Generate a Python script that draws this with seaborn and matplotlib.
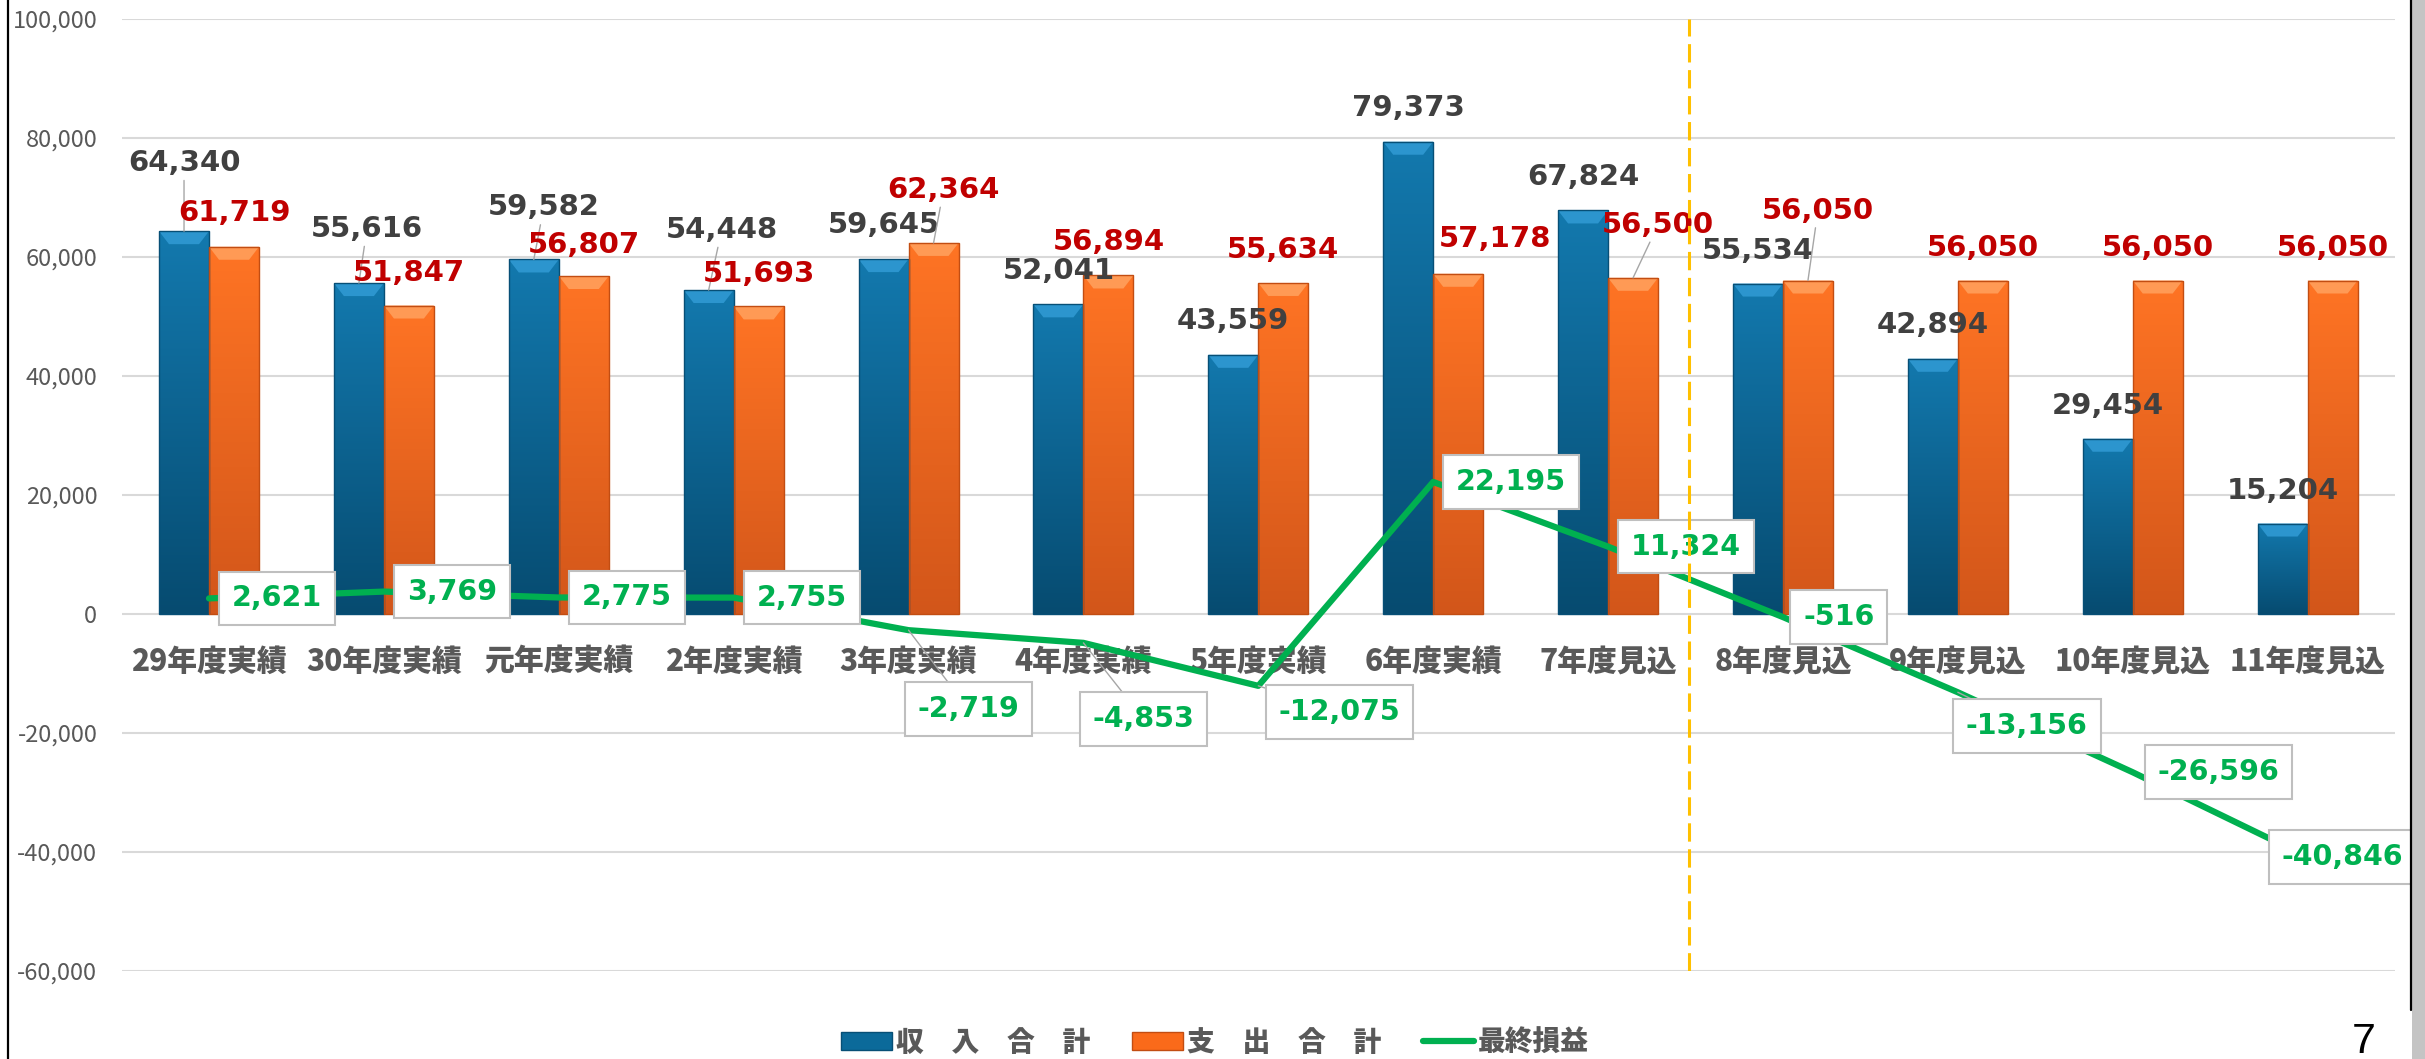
import numpy as np
import pandas as pd
import matplotlib
matplotlib.use("Agg")
import matplotlib.pyplot as plt
import seaborn as sns
from matplotlib.patches import Patch, Rectangle, Polygon
from matplotlib.lines import Line2D
from matplotlib.colors import LinearSegmentedColormap
from matplotlib.ticker import FuncFormatter, FixedLocator

# ---------------- data ----------------
categories = ['29年度実績', '30年度実績', '元年度実績', '2年度実績', '3年度実績', '4年度実績',
              '5年度実績', '6年度実績', '7年度見込', '8年度見込', '9年度見込', '10年度見込', '11年度見込']
income = [64340, 55616, 59582, 54448, 59645, 52041, 43559, 79373, 67824, 55534, 42894, 29454, 15204]
expense = [61719, 51847, 56807, 51693, 62364, 56894, 55634, 57178, 56500, 56050, 56050, 56050, 56050]
profit = [2621, 3769, 2775, 2755, -2719, -4853, -12075, 22195, 11324, -516, -13156, -26596, -40846]
series_names = ['収\u3000入\u3000合\u3000計', '支\u3000出\u3000合\u3000計', '最終損益']
y_ticks = [-60000, -40000, -20000, 0, 20000, 40000, 60000, 80000, 100000]
divider_pos = 8.46   # between 7年度見込 and 8年度見込
page_number = '7'

# label offsets in pixels (dx, dy up)
inc_off = [(0, 68), (8, 54), (10, 52), (13, 60), (0, 34), (0, 33), (0, 34), (0, 34), (0, 33), (0, 33), (0, 34), (0, 33), (0, 33)]
exp_off = [(0, 34), (0, 33), (0, 31), (0, 32), (10, 53), (0, 33), (0, 33), (37, 35), (25, 53), (10, 70), (0, 33), (0, 33), (0, 33)]
prof_off = [(68, 0), (68, 0), (68, 0), (68, 0), (60, -79), (60, -76), (81, -26), (78, 0), (78, 0), (56, 0), (69, -34), (86, 0), (35, 0)]

# ---------------- style ----------------
sns.set_style('white')
plt.rcParams['font.family'] = ['Noto Sans CJK JP', 'DejaVu Sans']

BLUE, BLUE_TOP, BLUE_BOT, BLUE_BEVEL, BLUE_EDGE = '#0B6A9A', '#1379AE', '#064B70', '#2C95CE', '#074F76'
ORANGE, ORANGE_TOP, ORANGE_BOT, ORANGE_BEVEL, ORANGE_EDGE = '#FA6A1A', '#FF7424', '#D2561A', '#FF9A55', '#C24D12'
GREEN = '#00B050'
PX = 0.72  # px -> pt at 100 dpi

n = len(categories)
df = pd.DataFrame({
    'idx': list(range(n)) * 2,
    'series': [series_names[0]] * n + [series_names[1]] * n,
    'value': income + expense,
})

fig = plt.figure(figsize=(24.25, 10.59), dpi=100)
ax = fig.add_axes([0.05014, 0.0831, 0.9375, 0.89896])

sns.barplot(data=df, x='idx', y='value', hue='series', hue_order=series_names[:2],
            palette=[BLUE, ORANGE], width=0.572, saturation=1, legend=False, ax=ax)

# gradient + bevel for each bar
bh = 13 * 160000 / 952
inset = 10 * 13 / (2395 - 121.6)
styles = [(BLUE_TOP, BLUE_BOT, BLUE_BEVEL, BLUE_EDGE), (ORANGE_TOP, ORANGE_BOT, ORANGE_BEVEL, ORANGE_EDGE)]
grad = np.linspace(0, 1, 256).reshape(-1, 1)
for cont, (ctop, cbot, cbev, cedge) in zip(ax.containers, styles):
    cmap = LinearSegmentedColormap.from_list('g', [cbot, ctop])
    for rect in cont:
        x0, y0, w, h = rect.get_x(), rect.get_y(), rect.get_width(), rect.get_height()
        im = ax.imshow(grad, extent=[x0, x0 + w, y0, y0 + h], origin='lower', aspect='auto',
                       cmap=cmap, zorder=1.1, interpolation='bilinear')
        im.set_clip_path(rect)
        top = y0 + h
        ax.add_patch(Polygon([(x0, top), (x0 + w, top), (x0 + w - inset, top - bh), (x0 + inset, top - bh)],
                             closed=True, facecolor=cbev, edgecolor='none', zorder=1.2))
        rect.set_facecolor('none')
        rect.set_edgecolor(cedge)
        rect.set_linewidth(1.0)
        rect.set_zorder(1.3)

# profit line
sns.lineplot(x=np.arange(n), y=profit, color=GREEN, linewidth=4.5, ax=ax, zorder=5, sort=False)

# divider
ax.axvline(divider_pos, color='#FFC000', lw=2.2, ls=(0, (6, 2.5)), zorder=8)

# axes cosmetics
ax.set_xlim(-0.5, n - 0.5)
ax.set_ylim(-60000, 100000)
ax.yaxis.set_major_locator(FixedLocator(y_ticks))
ax.yaxis.set_major_formatter(FuncFormatter(lambda v, p: f'{int(v):,}'))
ax.yaxis.grid(True, color='#D9D9D9', lw=1.5)
ax.xaxis.grid(False)
ax.set_axisbelow(True)
for s in ax.spines.values():
    s.set_visible(False)
ax.tick_params(axis='y', length=0, pad=17.5, labelsize=17, labelcolor='#595959')
ax.tick_params(axis='x', bottom=False, labelbottom=False)
ax.set_xlabel('')
ax.set_ylabel('')

# category labels
for i, c in enumerate(categories):
    ax.text(i, -7900, c, ha='center', va='center', fontsize=21.5, fontweight='heavy',
            color='#595959', zorder=4)

# bar value labels
lead = dict(arrowstyle='-', color='#A6A6A6', lw=1, shrinkA=0, shrinkB=0)
for cont, offs, col in zip(ax.containers, [inc_off, exp_off], ['#404040', '#C00000']):
    for rect, (dx, dy) in zip(cont, offs):
        xc = rect.get_x() + rect.get_width() / 2
        top = rect.get_y() + rect.get_height()
        ax.annotate(f'{int(round(top)):,}', xy=(xc, top), xytext=(dx * PX, dy * PX),
                    textcoords='offset points', ha='center', va='center', fontsize=21,
                    fontweight='bold', color=col, family='DejaVu Sans', zorder=6,
                    arrowprops=lead if dy > 45 else None)

# profit labels (boxed)
for i, (p, (dx, dy)) in enumerate(zip(profit, prof_off)):
    ax.annotate(f'{p:,}', xy=(i, p), xytext=(dx * PX, dy * PX), textcoords='offset points',
                ha='center', va='center', fontsize=20.5, fontweight='bold', color=GREEN,
                family='DejaVu Sans', zorder=7,
                bbox=dict(boxstyle='square,pad=0.45', fc='white', ec='#BFBFBF', lw=1.5),
                arrowprops=lead if dy != 0 else None)

# legend
handles = [Patch(facecolor=BLUE, edgecolor=BLUE_EDGE), Patch(facecolor=ORANGE, edgecolor=ORANGE_EDGE),
           Line2D([], [], color=GREEN, lw=4.5)]
leg = fig.legend(handles, series_names, loc='center', bbox_to_anchor=(0.501, 0.0155), ncol=3,
                 frameon=False, prop=dict(family='Noto Sans CJK JP', weight='heavy', size=20),
                 labelcolor='#595959', handlelength=1.84, handleheight=0.65, handletextpad=0.15,
                 columnspacing=1.5)

# slide frame and page number
fig.add_artist(Line2D([8 / 2425, 8 / 2425], [0, 1], transform=fig.transFigure, color='black', lw=1.6))
fig.add_artist(Rectangle((2412 / 2425, 0), 13 / 2425, 1, transform=fig.transFigure,
                         facecolor='#C4C4C4', edgecolor='none'))
fig.add_artist(Line2D([2411 / 2425, 2411 / 2425], [1 - 1010 / 1059, 1], transform=fig.transFigure,
                      color='black', lw=1.6))
fig.text(2363.5 / 2425, 0.006, page_number, ha='center', va='baseline', fontsize=31,
         family='Liberation Sans', color='black')

fig.savefig('out.png', dpi=100)
